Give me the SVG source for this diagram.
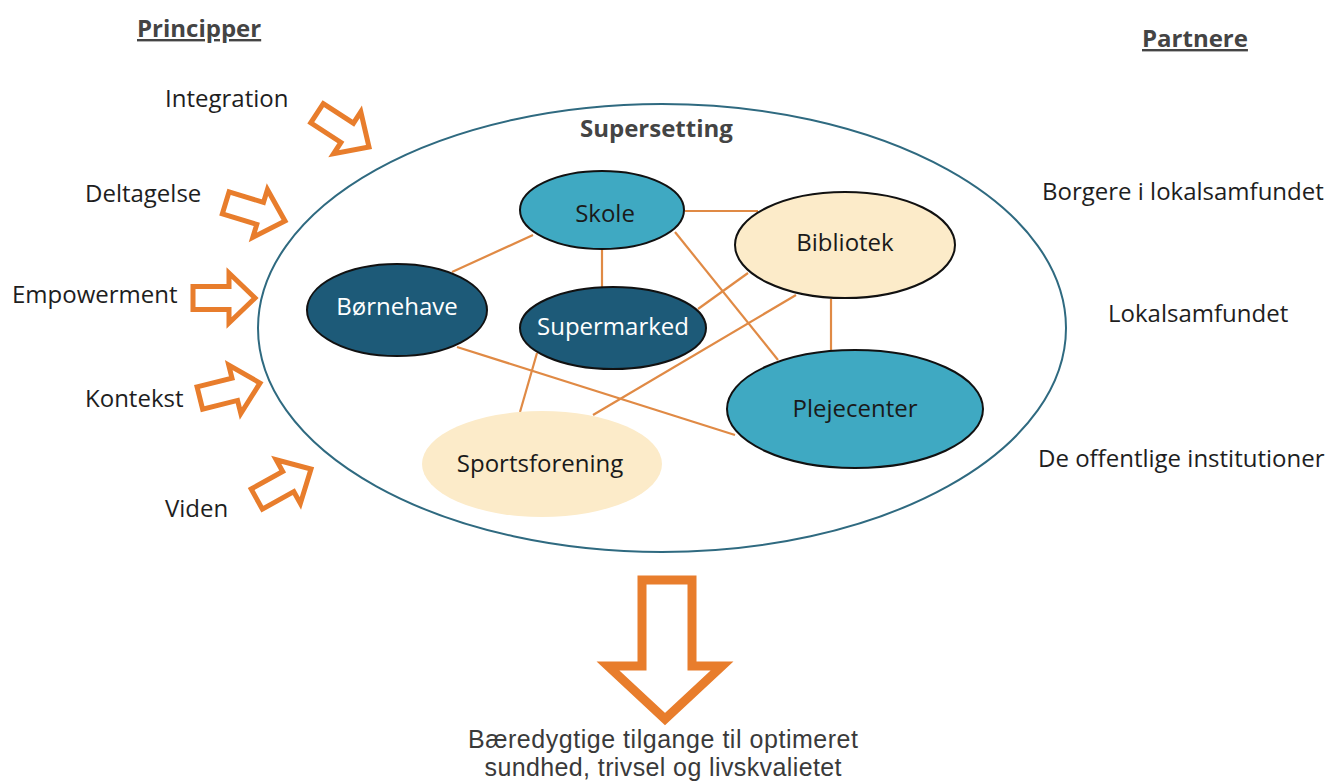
<svg xmlns="http://www.w3.org/2000/svg" width="1334" height="784" viewBox="0 0 1334 784">
<defs>
<style>
.lbl{font-family:"Open Sans","Liberation Sans",sans-serif;font-size:24px;fill:#1e1e1e}
.hdr{font-family:"Open Sans","Liberation Sans",sans-serif;font-size:24px;font-weight:bold;fill:#444;text-decoration:underline}
.ntx{font-family:"Open Sans","Liberation Sans",sans-serif;font-size:24px;text-anchor:middle}
.btx{font-family:"Liberation Sans",Arial,sans-serif;font-size:25px;text-anchor:middle;fill:#3a3a3a}
.dark{fill:#1d5a78;stroke:#111;stroke-width:2}
.teal{fill:#3fa9c2;stroke:#111;stroke-width:2}
.cream{fill:#fcebc9;stroke:#111;stroke-width:2}
.conn line{stroke:#e08a45;stroke-width:2.2}
.arr{fill:#fff;stroke:#e87d2c;stroke-width:5;stroke-linejoin:miter}
</style>
<path id="sarrow" d="M-62,-11.5 L-26,-11.5 L-26,-25 L0,0 L-26,25 L-26,11.5 L-62,11.5 Z"/>
</defs>
<rect width="1334" height="784" fill="#fff"/>

<g id="headers">
<text class="hdr" x="137" y="37">Principper</text>
<text class="hdr" x="1142" y="47">Partnere</text>
</g>

<g id="principles">
<text class="lbl" x="165" y="107">Integration</text>
<text class="lbl" x="85" y="202">Deltagelse</text>
<text class="lbl" x="12" y="303">Empowerment</text>
<text class="lbl" x="85" y="407">Kontekst</text>
<text class="lbl" x="165" y="517">Viden</text>
</g>

<g id="principle-arrows">
<use href="#sarrow" class="arr" transform="translate(369,147) rotate(33)"/>
<use href="#sarrow" class="arr" transform="translate(285,221) rotate(17)"/>
<use href="#sarrow" class="arr" transform="translate(255,298)"/>
<use href="#sarrow" class="arr" transform="translate(260,383) rotate(-14)"/>
<use href="#sarrow" class="arr" transform="translate(311,469) rotate(-29)"/>
</g>

<g id="partners">
<text class="lbl" x="1042" y="200">Borgere i lokalsamfundet</text>
<text class="lbl" x="1108" y="322">Lokalsamfundet</text>
<text class="lbl" x="1038" y="467">De offentlige institutioner</text>
</g>

<g id="supersetting">
<ellipse cx="662" cy="328" rx="404" ry="224" fill="none" stroke="#2f6a80" stroke-width="2"/>
<text x="580" y="137" style="font-family:'Open Sans','Liberation Sans',sans-serif;font-size:24px;font-weight:bold;fill:#444">Supersetting</text>
</g>

<g id="connectors" class="conn">
<line x1="685" y1="211" x2="758" y2="211"/>
<line x1="533" y1="235" x2="452" y2="272"/>
<line x1="602" y1="249" x2="602" y2="287"/>
<line x1="675" y1="232" x2="778" y2="360"/>
<line x1="698" y1="309" x2="748" y2="273"/>
<line x1="593" y1="415" x2="796" y2="295"/>
<line x1="537" y1="353" x2="520" y2="412"/>
<line x1="457" y1="347" x2="735" y2="435"/>
<line x1="831" y1="299" x2="831" y2="350"/>
</g>

<g id="node-skole">
<ellipse class="teal" cx="602" cy="210" rx="82" ry="39"/>
<text class="ntx" x="605" y="222" fill="#1a1a1a">Skole</text>
</g>
<g id="node-bibliotek">
<ellipse class="cream" cx="845" cy="245" rx="110" ry="53"/>
<text class="ntx" x="845" y="251" fill="#1a1a1a">Bibliotek</text>
</g>
<g id="node-bornehave">
<ellipse class="dark" cx="397" cy="310" rx="90" ry="46"/>
<text class="ntx" x="397" y="315" fill="#fff">Børnehave</text>
</g>
<g id="node-supermarked">
<ellipse class="dark" cx="613" cy="328" rx="93" ry="41"/>
<text class="ntx" x="613" y="335" fill="#fff">Supermarked</text>
</g>
<g id="node-plejecenter">
<ellipse class="teal" cx="855" cy="409" rx="128" ry="59"/>
<text class="ntx" x="855" y="417" fill="#1a1a1a">Plejecenter</text>
</g>
<g id="node-sportsforening">
<ellipse cx="542" cy="464" rx="120" ry="53" fill="#fcebc9"/>
<text class="ntx" x="540" y="472" fill="#1a1a1a">Sportsforening</text>
</g>

<g id="outcome">
<path class="arr" style="stroke-width:9" d="M642,580 H692 V666 H722 L665,719 L608,666 H642 Z"/>
<text class="btx" x="663" y="748" textLength="390" lengthAdjust="spacing">Bæredygtige tilgange til optimeret</text>
<text class="btx" x="663" y="776" textLength="357" lengthAdjust="spacing">sundhed, trivsel og livskvalietet</text>
</g>
</svg>
